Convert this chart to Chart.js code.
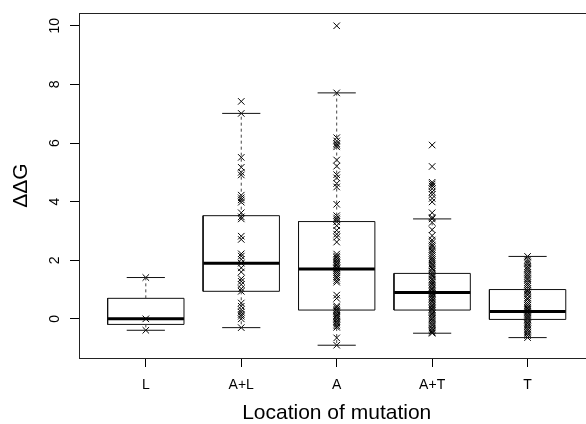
<!DOCTYPE html>
<html>
<head>
<meta charset="utf-8">
<script src="https://cdn.jsdelivr.net/npm/chart.js@4/dist/chart.umd.min.js"></script>
<style>
  html, body { margin: 0; padding: 0; background: #fff; }
  #wrap { width: 586px; height: 424px; overflow: hidden; position: relative; }
</style>
</head>
<body>
<div id="wrap"><canvas id="chart_id_0" width="600" height="424"></canvas></div>
<script>
// categories along the x axis
const categories = ['L', 'A+L', 'A', 'A+T', 'T'];
const yTicks = [0, 2, 4, 6, 8, 10];

// boxplot stats per category
const whiskerLow = [-0.39, -0.30, -0.90, -0.49, -0.64];
const lowerHinge = [-0.19, 0.94, 0.30, 0.30, -0.02];
const medians = [0.00, 1.90, 1.70, 0.90, 0.25];
const upperHinge = [0.70, 3.52, 3.32, 1.55, 1.00];
const whiskerHigh = [1.41, 7.01, 7.71, 3.41, 2.13];

// raw ddG values per category
const ptsL = [1.41, 0.0, -0.39];
const ptsAL = [7.42, 7.01, 5.51, 5.17, 5.0, 4.91, 4.22, 4.13, 4.06, 3.98, 3.62, 3.48, 3.41,
  2.82, 2.71, 2.22, 2.14, 2.03, 1.9, 1.74, 1.6, 1.37, 1.28, 1.17, 1.03, 0.94, 0.54, 0.43,
  0.32, 0.23, 0.15, 0.09, 0.0, -0.30];
const ptsA = [10.0, 7.71, 6.18, 6.07, 5.98, 5.93, 5.87, 5.42, 5.21, 4.92, 4.81, 4.62, 4.5,
  3.91, 3.52, 3.44, 3.38, 3.31, 3.18, 3.02, 2.89, 2.79, 2.62, 2.21, 2.14, 2.09, 2.03, 1.97,
  1.92, 1.86, 1.81, 1.74, 1.7, 1.64, 1.58, 1.51, 1.44, 1.39, 1.31, 1.25, 0.81, 0.7, 0.44,
  0.39, 0.33, 0.28, 0.24, 0.17, 0.12, 0.08, 0.03, -0.02, -0.08, -0.13, -0.18, -0.24, -0.29,
  -0.65, -0.90];
const ptsAT = [5.93, 5.2, 4.66, 4.6, 4.53, 4.44, 4.33, 4.24, 4.11, 3.99, 3.62, 3.46, 3.41,
  3.29, 3.04, 2.84, 2.69, 2.61, 2.52, 2.46, 2.37, 2.31, 2.23, 2.16, 2.08, 2.01, 1.95, 1.87,
  1.81, 1.73, 1.69, 1.61, 1.55, 1.49, 1.44, 1.36, 1.31, 1.25, 1.19, 1.14, 1.07, 1.02, 0.97,
  0.91, 0.87, 0.83, 0.78, 0.72, 0.67, 0.61, 0.56, 0.49, 0.44, 0.38, 0.33, 0.29, 0.22, 0.17,
  0.11, 0.04, 0.0, -0.06, -0.12, -0.19, -0.23, -0.31, -0.36, -0.41, -0.46, -0.49];
const ptsT = [2.13, 2.01, 1.94, 1.88, 1.79, 1.73, 1.67, 1.59, 1.52, 1.46, 1.39, 1.33, 1.24,
  1.18, 1.11, 1.03, 0.97, 0.92, 0.85, 0.8, 0.71, 0.66, 0.59, 0.52, 0.46, 0.4, 0.35, 0.3,
  0.26, 0.21, 0.16, 0.1, 0.06, 0.0, -0.04, -0.11, -0.16, -0.22, -0.27, -0.34, -0.39, -0.46,
  -0.51, -0.57, -0.64];
const points = [ptsL, ptsAL, ptsA, ptsAT, ptsT];

const BOX_HALF = 0.4;    // boxwex 0.8
const CAP_HALF = 0.2;    // staplewex 0.5
const FONT = '"Liberation Sans", Arial, Helvetica, sans-serif';

function gap(i) { return {x: i, y: null}; }

// build segment lists from the stats
var boxData = [], medianData = [], whiskerData = [], capData = [], pointData = [];
categories.forEach(function (c, k) {
  const i = k + 1;
  boxData.push({x: i - BOX_HALF, y: lowerHinge[k]}, {x: i + BOX_HALF, y: lowerHinge[k]},
    {x: i + BOX_HALF, y: upperHinge[k]}, {x: i - BOX_HALF, y: upperHinge[k]},
    {x: i - BOX_HALF, y: lowerHinge[k]}, gap(i));
  medianData.push({x: i - BOX_HALF, y: medians[k]}, {x: i + BOX_HALF, y: medians[k]}, gap(i));
  whiskerData.push({x: i, y: upperHinge[k]}, {x: i, y: whiskerHigh[k]}, gap(i),
    {x: i, y: lowerHinge[k]}, {x: i, y: whiskerLow[k]}, gap(i));
  capData.push({x: i - CAP_HALF, y: whiskerHigh[k]}, {x: i + CAP_HALF, y: whiskerHigh[k]}, gap(i),
    {x: i - CAP_HALF, y: whiskerLow[k]}, {x: i + CAP_HALF, y: whiskerLow[k]}, gap(i));
  points[k].forEach(function (v) { pointData.push({x: i, y: v}); });
});

function segLine(data, width, color, dash) {
  return {
    type: 'line', data: data, showLine: true, spanGaps: false, fill: false,
    borderColor: color, borderWidth: width, borderDash: dash || [],
    pointRadius: 0, tension: 0, borderCapStyle: 'butt'
  };
}

// full frame round the plot region, like R's bty="o"
const framePlugin = {
  id: 'frame',
  afterDraw(chart) {
    const a = chart.chartArea;
    const ctx = chart.ctx;
    ctx.save();
    ctx.strokeStyle = '#222';
    ctx.lineWidth = 1;
    ctx.strokeRect(Math.floor(a.left) + 0.5, Math.floor(a.top) + 0.5,
      Math.round(a.right - a.left), Math.round(a.bottom - a.top));
    ctx.restore();
  }
};

const ctx = document.getElementById('chart_id_0');
new Chart(ctx, {
  type: 'scatter',
  data: {
    datasets: [
      segLine(whiskerData, 1, '#444', [3, 3]),
      segLine(boxData, 1, '#111'),
      segLine(capData, 1, '#111'),
      segLine(medianData, 3, '#000'),
      {
        data: pointData, pointStyle: 'crossRot', pointRadius: 4.6,
        borderColor: '#000', backgroundColor: '#000', pointBorderWidth: 1, showLine: false
      }
    ]
  },
  options: {
    responsive: false,
    animation: false,
    layout: { padding: { left: 0, right: 3, top: 13, bottom: 0 } },
    plugins: { legend: { display: false }, tooltip: { enabled: false } },
    scales: {
      x: {
        type: 'linear', min: 0.3, max: 5.7,
        afterBuildTicks: function (s) { s.ticks = categories.map(function (c, k) { return {value: k + 1}; }); },
        afterFit: function (s) { s.height = 66; s.paddingLeft = 0; s.paddingRight = 0; },
        grid: { drawOnChartArea: false, drawTicks: true, tickLength: 9, tickColor: '#000' },
        border: { display: false },
        ticks: {
          autoSkip: false, maxRotation: 0, padding: 10, color: '#000',
          font: { family: FONT, size: 14 },
          callback: function (v) { return categories[v - 1]; }
        },
        title: {
          display: true, text: 'Location of mutation', color: '#000',
          font: { family: FONT, size: 21, lineHeight: 1 }, padding: { top: 0, bottom: 0 }
        }
      },
      y: {
        type: 'linear', min: -1.336, max: 10.436,
        afterBuildTicks: function (s) { s.ticks = yTicks.map(function (v) { return {value: v}; }); },
        afterFit: function (s) { s.width = 79; s.paddingTop = 0; s.paddingBottom = 0; },
        grid: { drawOnChartArea: false, drawTicks: true, tickLength: 9, tickColor: '#000' },
        border: { display: false },
        ticks: {
          minRotation: 90, maxRotation: 90, crossAlign: 'center', padding: 7, color: '#000',
          font: { family: FONT, size: 14 }
        },
        title: {
          display: true, text: 'ΔΔG', color: '#000',
          font: { family: FONT, size: 21, lineHeight: 1 }, padding: { top: 11, bottom: 0 }
        }
      }
    }
  },
  plugins: [framePlugin]
});
</script>
</body>
</html>
